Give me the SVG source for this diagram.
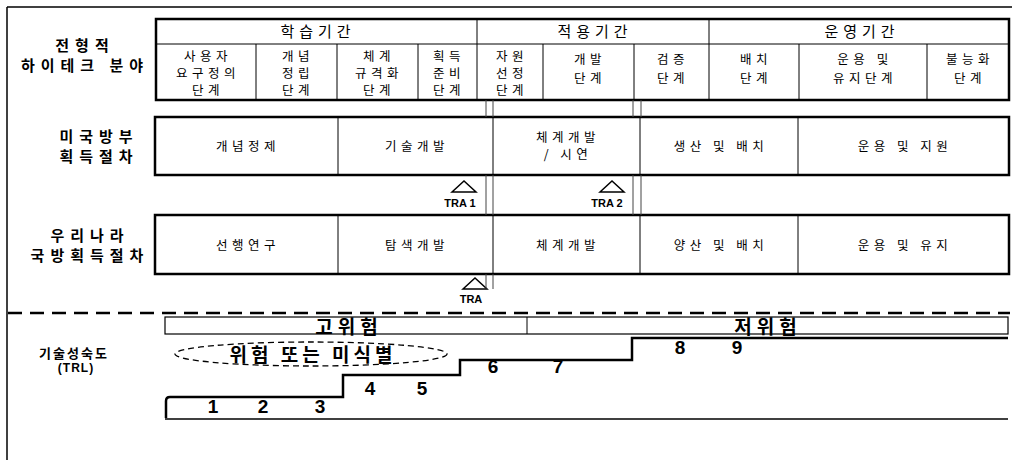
<svg xmlns="http://www.w3.org/2000/svg" width="1015" height="460" viewBox="0 0 1015 460">
<style>
text{font-family:"Noto Sans CJK KR","Noto Sans",sans-serif;fill:#000;text-anchor:middle}
.lbl{font-size:15px;font-weight:bold;letter-spacing:6px}
.hd{font-size:15px;letter-spacing:5px}
.c{font-size:12.5px;letter-spacing:4.5px}
.box{fill:#fff;stroke:#000;stroke-width:2.5}
.thin{stroke:#000;stroke-width:1;fill:none}
.gap{stroke:#444;stroke-width:1;fill:none}
.tra{font-family:"Liberation Sans",Arial,sans-serif;font-size:11px;font-weight:bold;letter-spacing:0}
.tri{fill:#fff;stroke:#000;stroke-width:1.5}
.num{font-family:"Liberation Sans",Arial,sans-serif;font-size:19px;font-weight:bold}
.risk{font-size:19px;font-weight:bold;letter-spacing:5px}
</style>
<rect x="0" y="0" width="1015" height="460" fill="#fff"/>
<g id="frame">
<line x1="7" y1="7" x2="1012" y2="7" stroke="#000" stroke-width="1.5"/>
<line x1="7" y1="7" x2="7" y2="460" stroke="#000" stroke-width="1.5"/>
</g>
<g id="labels">
<text class="lbl" x="85" y="51">전형적</text>
<text class="lbl" x="85" y="71">하이테크 분야</text>
<text class="lbl" x="99" y="142">미국방부</text>
<text class="lbl" x="99" y="162">획득절차</text>
<text class="lbl" x="90" y="241">우리나라</text>
<text class="lbl" x="90" y="261">국방획득절차</text>
<text x="74" y="358" style="font-size:13px;font-weight:bold;letter-spacing:2px">기술성숙도</text>
<text x="76" y="372" style="font-size:12px;font-weight:bold;font-family:'Liberation Sans',Arial,sans-serif;letter-spacing:1px">(TRL)</text>
</g>
<g id="hightech">
<rect class="box" x="156" y="19" width="853" height="81"/>
<line class="thin" x1="156" y1="44" x2="1009" y2="44"/>
<line class="thin" x1="477" y1="19" x2="477" y2="100"/>
<line class="thin" x1="709" y1="19" x2="709" y2="100"/>
<line class="thin" x1="256" y1="44" x2="256" y2="100"/>
<line class="thin" x1="337" y1="44" x2="337" y2="100"/>
<line class="thin" x1="418" y1="44" x2="418" y2="100"/>
<line class="thin" x1="543" y1="44" x2="543" y2="100"/>
<line class="thin" x1="634" y1="44" x2="634" y2="100"/>
<line class="thin" x1="799" y1="44" x2="799" y2="100"/>
<line class="thin" x1="927" y1="44" x2="927" y2="100"/>
<text class="hd" x="318" y="37">학습기간</text>
<text class="hd" x="595" y="37">적용기간</text>
<text class="hd" x="862" y="37">운영기간</text>
<text class="c" x="208" y="61">사용자</text><text class="c" x="208" y="78">요구정의</text><text class="c" x="208" y="95">단계</text>
<text class="c" x="298" y="61">개념</text><text class="c" x="298" y="78">정립</text><text class="c" x="298" y="95">단계</text>
<text class="c" x="379" y="61">체계</text><text class="c" x="379" y="78">규격화</text><text class="c" x="379" y="95">단계</text>
<text class="c" x="449" y="61">획득</text><text class="c" x="449" y="78">준비</text><text class="c" x="449" y="95">단계</text>
<text class="c" x="512" y="61">자원</text><text class="c" x="512" y="78">선정</text><text class="c" x="512" y="95">단계</text>
<text class="c" x="590" y="64">개발</text><text class="c" x="590" y="83">단계</text>
<text class="c" x="673" y="64">검증</text><text class="c" x="673" y="83">단계</text>
<text class="c" x="756" y="64">배치</text><text class="c" x="756" y="83">단계</text>
<text class="c" x="865" y="64">운용 및</text><text class="c" x="865" y="83">유지단계</text>
<text class="c" x="970" y="64">불능화</text><text class="c" x="970" y="83">단계</text>
</g>
<g id="usdod">
<rect class="box" x="155" y="117" width="854" height="58"/>
<line class="thin" x1="338" y1="117" x2="338" y2="175"/>
<line class="thin" x1="493" y1="117" x2="493" y2="175"/>
<line class="thin" x1="640" y1="117" x2="640" y2="175"/>
<line class="thin" x1="798" y1="117" x2="798" y2="175"/>
<text class="c" x="248" y="151">개념정제</text>
<text class="c" x="417" y="151">기술개발</text>
<text class="c" x="568" y="142">체계개발</text>
<text class="c" x="568" y="159">/ 시연</text>
<text class="c" x="721" y="151">생산 및 배치</text>
<text class="c" x="905" y="151">운용 및 지원</text>
</g>
<g id="tra1">
<polygon class="tri" points="452,192 464,181 476,192"/>
<text class="tra" x="460" y="207">TRA 1</text>
</g>
<g id="tra2">
<polygon class="tri" points="600,192 612,181 624,192"/>
<text class="tra" x="607" y="207">TRA 2</text>
</g>
<g id="korea">
<rect class="box" x="155" y="215" width="854" height="59"/>
<line class="thin" x1="338" y1="215" x2="338" y2="274"/>
<line class="thin" x1="493" y1="215" x2="493" y2="274"/>
<line class="thin" x1="640" y1="215" x2="640" y2="274"/>
<line class="thin" x1="798" y1="215" x2="798" y2="274"/>
<text class="c" x="248" y="250">선행연구</text>
<text class="c" x="417" y="250">탐색개발</text>
<text class="c" x="568" y="250">체계개발</text>
<text class="c" x="721" y="250">양산 및 배치</text>
<text class="c" x="905" y="250">운용 및 유지</text>
</g>
<g id="tra">
<polygon class="tri" points="463,289 475,278 487,289"/>
<text class="tra" x="471" y="303">TRA</text>
</g>
<g id="connectors">
<line class="gap" x1="486" y1="100" x2="486" y2="117"/>
<line class="gap" x1="493" y1="100" x2="493" y2="117"/>
<line class="gap" x1="633" y1="100" x2="633" y2="117"/>
<line class="gap" x1="641" y1="100" x2="641" y2="117"/>
<line class="gap" x1="486" y1="175" x2="486" y2="215"/>
<line class="gap" x1="493" y1="175" x2="493" y2="215"/>
<line class="gap" x1="633" y1="175" x2="633" y2="215"/>
<line class="gap" x1="641" y1="175" x2="641" y2="215"/>
<line class="gap" x1="486" y1="274" x2="486" y2="289"/>
<line class="gap" x1="493" y1="274" x2="493" y2="289"/>
</g>
<g id="divider">
<line x1="8" y1="313" x2="1010" y2="313" stroke="#000" stroke-width="2.5" stroke-dasharray="14 8"/>
</g>
<g id="riskbar">
<rect x="165" y="317" width="843" height="17" fill="#fff" stroke="#000" stroke-width="1.2"/>
<line class="thin" x1="527" y1="317" x2="527" y2="334"/>
<text class="risk" x="349" y="334">고위험</text>
<text class="risk" x="768" y="334">저위험</text>
</g>
<g id="unknown">
<ellipse cx="311" cy="354" rx="136" ry="12" fill="none" stroke="#000" stroke-width="1.3" stroke-dasharray="6 4"/>
<text x="313" y="362" style="font-size:19px;font-weight:bold;letter-spacing:4px">위험 또는 미식별</text>
</g>
<g id="trl">
<path d="M166,418 L166,401 Q166,397 170,397 L343,397 L343,375 L460,375 L460,360 L632,360 L632,338 L1008,338" fill="none" stroke="#000" stroke-width="2.5"/>
<line x1="165" y1="419" x2="1008" y2="419" stroke="#000" stroke-width="1.5"/>
<text class="num" x="213" y="413">1</text>
<text class="num" x="263" y="413">2</text>
<text class="num" x="320" y="413">3</text>
<text class="num" x="370" y="395">4</text>
<text class="num" x="422" y="395">5</text>
<text class="num" x="493" y="373">6</text>
<text class="num" x="558" y="373">7</text>
<text class="num" x="680" y="354">8</text>
<text class="num" x="737" y="354">9</text>
</g>
</svg>
